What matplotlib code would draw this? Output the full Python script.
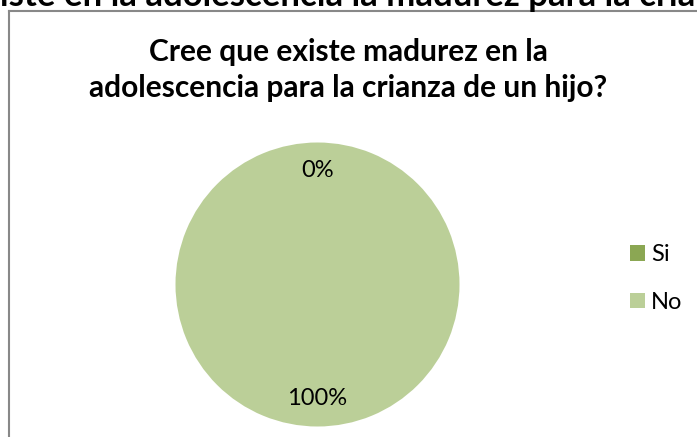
import matplotlib
matplotlib.use("Agg")
import matplotlib.pyplot as plt
from matplotlib.lines import Line2D

# data
categories = ["Si", "No"]
values = [0, 100]
colors = ["#8BA753", "#BBCF98"]
title = "Cree que existe madurez en la\nadolescencia para la crianza de un hijo?"
heading = "Cree que existe en la adolescencia la madurez para la crianza de un hijo?"

W, H = 697, 437
fig = plt.figure(figsize=(W / 100, H / 100), dpi=100)
plt.rcParams['font.family'] = ['Lato', 'DejaVu Sans']

# cut-off heading at the very top (from the document page)
prefix = fig.text(0, 0, "Cree que ex", fontsize=25, fontweight='bold')
fig.canvas.draw()
w = prefix.get_window_extent().width
prefix.remove()
fig.text(-w / W, 1 - 6 / H, heading, fontsize=25, fontweight='bold',
         ha='left', va='baseline', color='black')

# chart border (only left and top edges visible)
fig.add_artist(Line2D([8.5 / W, 8.5 / W], [0, 1 - 10.5 / H], color='#888888', lw=1.5))
fig.add_artist(Line2D([8.5 / W, 1], [1 - 10.5 / H, 1 - 10.5 / H], color='#888888', lw=1.5))

# pie
cx, cy, r = 317.5, 284.5, 142
ax = fig.add_axes([(cx - r) / W, (H - cy - r) / H, 2 * r / W, 2 * r / H])
wedges, texts, autotexts = ax.pie(values, colors=colors, startangle=90, counterclock=False,
                                  autopct='%1.0f%%', pctdistance=0.8, radius=1,
                                  textprops={'fontsize': 17, 'color': 'black'})
ax.set_xlim(-1, 1)
ax.set_ylim(-1, 1)
ax.set_aspect('equal')

fig.text(348 / W, 1 - 70 / H, title, fontsize=21.5, fontweight='bold',
         ha='center', va='center', linespacing=1.38)

leg = fig.legend(wedges, categories, loc='center left', bbox_to_anchor=(630 / W, 1 - 278.5 / H),
                 frameon=False, fontsize=17, handlelength=0.65, handleheight=0.65,
                 handletextpad=0.25, labelspacing=1.12, borderpad=0, borderaxespad=0)

fig.savefig("out.png", dpi=100)
